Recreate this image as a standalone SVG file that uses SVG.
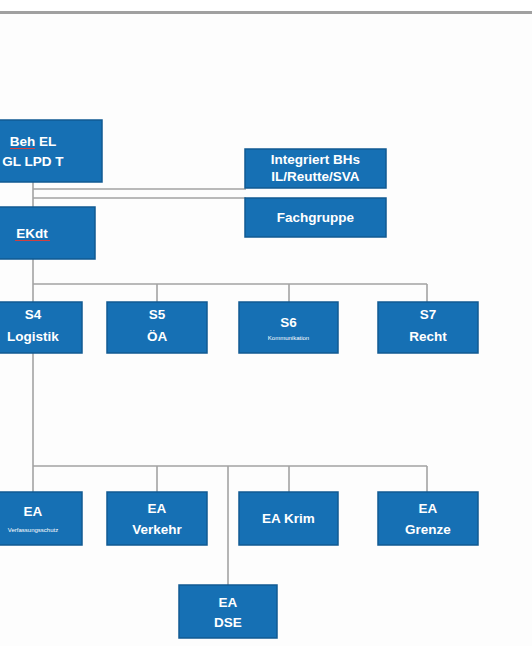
<svg xmlns="http://www.w3.org/2000/svg" width="532" height="646" viewBox="0 0 532 646">
<style>
.box{fill:#1670b4;stroke:#105a92;stroke-width:1.5}
.t{fill:#ffffff;font-family:"Liberation Sans",Arial,sans-serif;font-weight:bold;font-size:13.5px;text-anchor:middle}
.s{font-size:6px;font-weight:normal}
.ln{stroke:#a3a3a3;stroke-width:1.6;fill:none}
.sp{stroke:#d04040;stroke-width:1;fill:none}
</style>
<rect x="0" y="0" width="532" height="646" fill="#fdfdfd"/>
<rect x="0" y="0" width="532" height="11" fill="#ffffff"/>
<rect x="0" y="11" width="532" height="3" fill="#a0a0a0"/>
<g id="connectors">
<path class="ln" d="M33 182V207"/>
<path class="ln" d="M33 189H246M33 198H246"/>
<path class="ln" d="M33 259V302M33 284H427M157 284V302M289 284V302M427 284V302"/>
<path class="ln" d="M33 353V492M33 466H427M157 466V492M289 466V492M427 466V492M228 466V585"/>
</g>
<g id="beh">
<rect class="box" x="-36" y="120" width="138" height="62"/>
<text class="t" x="33" y="146">Beh EL</text>
<text class="t" x="33" y="166">GL LPD T</text>
<path class="sp" d="M10 148.5H35"/>
</g>
<g id="integriert">
<rect class="box" x="245" y="149" width="141" height="39"/>
<text class="t" x="315.5" y="164">Integriert BHs</text>
<text class="t" x="315.5" y="181">IL/Reutte/SVA</text>
</g>
<g id="fachgruppe">
<rect class="box" x="245" y="198" width="141" height="39"/>
<text class="t" x="315.5" y="222">Fachgruppe</text>
</g>
<g id="ekdt">
<rect class="box" x="-31" y="207" width="126" height="52"/>
<text class="t" x="32" y="238">EKdt</text>
<path class="sp" d="M15 240.5H50"/>
</g>
<g id="s4">
<rect class="box" x="-16" y="302" width="98" height="51"/>
<text class="t" x="33" y="319">S4</text>
<text class="t" x="33" y="341">Logistik</text>
</g>
<g id="s5">
<rect class="box" x="107" y="302" width="100" height="51"/>
<text class="t" x="157" y="319">S5</text>
<text class="t" x="157" y="341">ÖA</text>
</g>
<g id="s6">
<rect class="box" x="239" y="302" width="99" height="51"/>
<text class="t" x="288.5" y="327">S6</text>
<text class="t s" x="288.5" y="340">Kommunikation</text>
</g>
<g id="s7">
<rect class="box" x="378" y="302" width="100" height="51"/>
<text class="t" x="428" y="319">S7</text>
<text class="t" x="428" y="341">Recht</text>
</g>
<g id="ea1">
<rect class="box" x="-16" y="492" width="98" height="53"/>
<text class="t" x="33" y="516">EA</text>
<text class="t s" x="33" y="532">Verfassungsschutz</text>
</g>
<g id="ea-verkehr">
<rect class="box" x="107" y="492" width="100" height="53"/>
<text class="t" x="157" y="513">EA</text>
<text class="t" x="157" y="534">Verkehr</text>
</g>
<g id="ea-krim">
<rect class="box" x="239" y="492" width="99" height="53"/>
<text class="t" x="288.5" y="523">EA Krim</text>
</g>
<g id="ea-grenze">
<rect class="box" x="378" y="492" width="100" height="53"/>
<text class="t" x="428" y="513">EA</text>
<text class="t" x="428" y="534">Grenze</text>
</g>
<g id="ea-dse">
<rect class="box" x="179" y="585" width="98" height="53"/>
<text class="t" x="228" y="607">EA</text>
<text class="t" x="228" y="627">DSE</text>
</g>
</svg>
